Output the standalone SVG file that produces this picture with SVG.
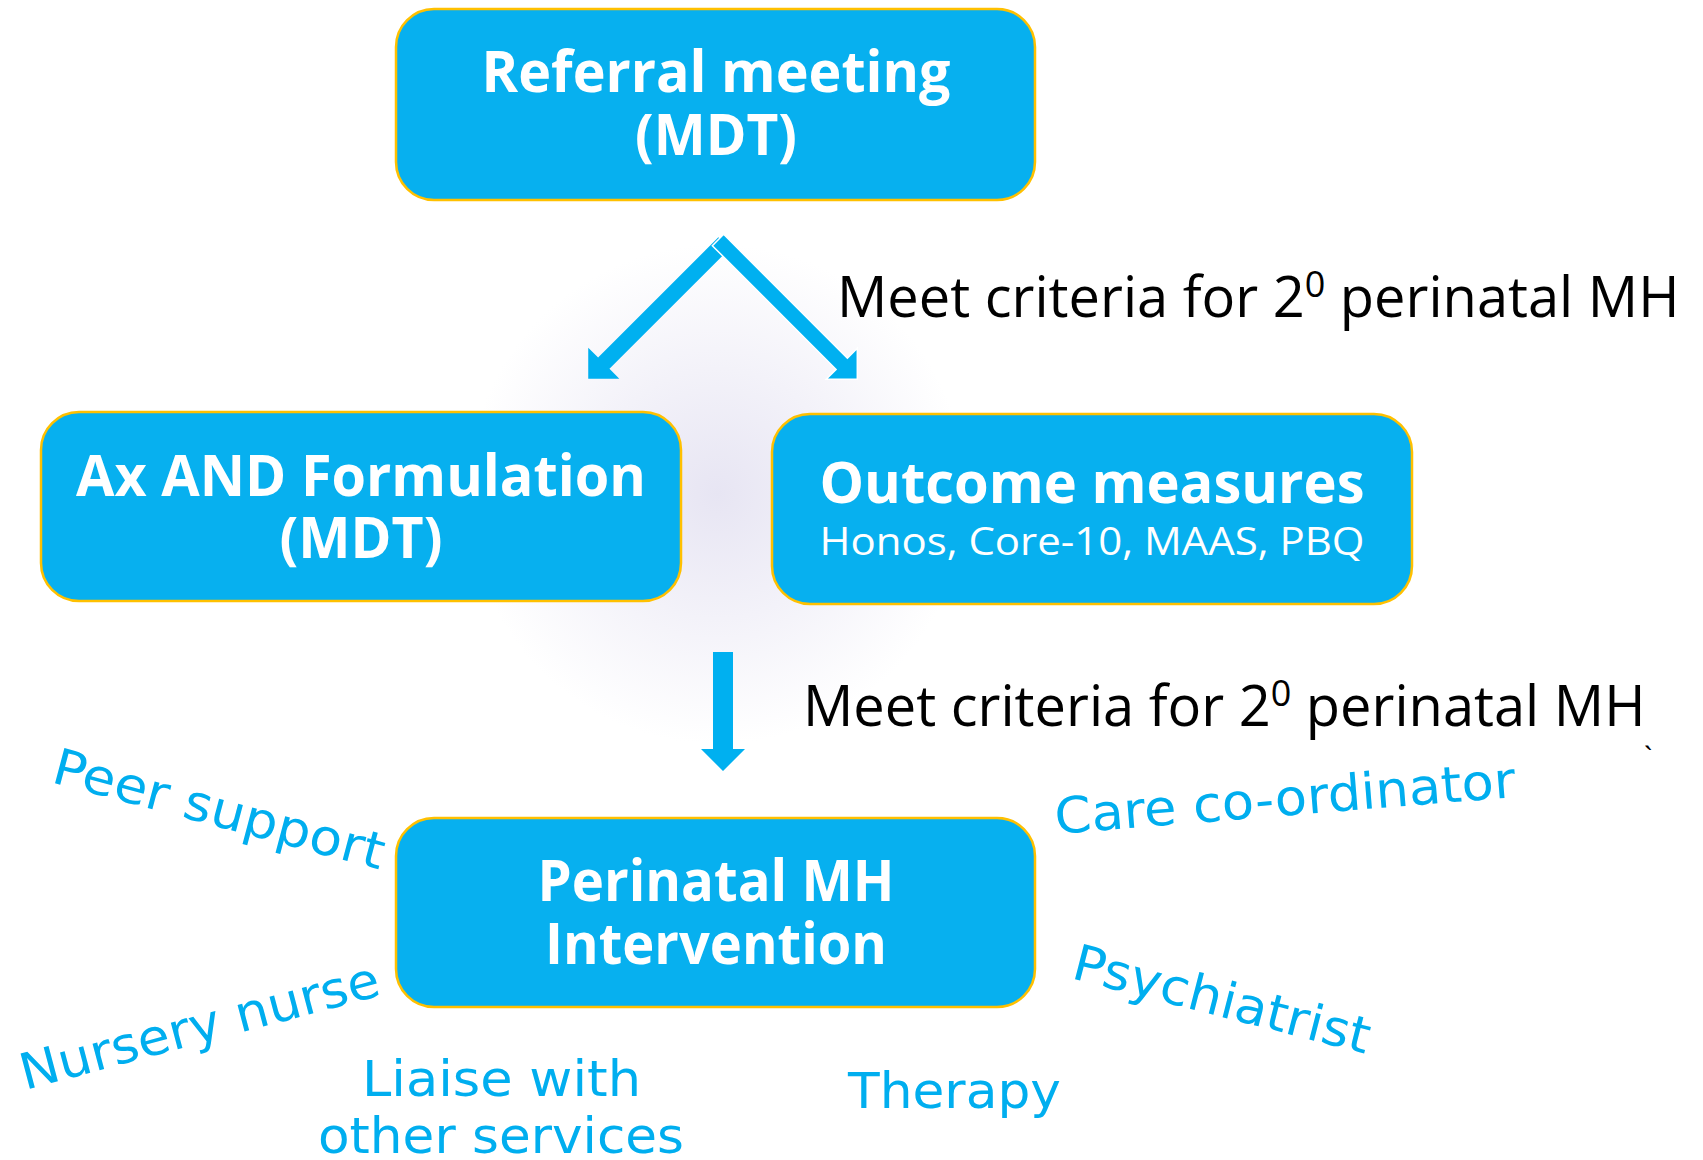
<svg xmlns="http://www.w3.org/2000/svg" width="1703" height="1160" viewBox="0 0 1703 1160">
<defs>
<radialGradient id="glow" cx="717" cy="494" r="250" gradientUnits="userSpaceOnUse">
<stop offset="0" stop-color="#E7E5F3"/>
<stop offset="0.5" stop-color="#F3F2F9"/>
<stop offset="1" stop-color="#FFFFFF"/>
</radialGradient>
<style>
.box{fill:#07B0EF;stroke:#FFC000;stroke-width:2.5}
.bt{font-family:"Open Sans","DejaVu Sans",sans-serif;font-weight:700;font-size:57px;fill:#FFFFFF;text-anchor:middle}
.st{font-family:"Open Sans","DejaVu Sans",sans-serif;font-weight:400;font-size:39px;fill:#FFFFFF;text-anchor:middle}
.crit{font-family:"Open Sans","DejaVu Sans",sans-serif;font-weight:400;font-size:56px;fill:#000000}
.tick{font-family:"Open Sans","DejaVu Sans",sans-serif;font-weight:400;font-size:30px;fill:#000000}
.lab{font-family:"DejaVu Sans","Open Sans",sans-serif;font-weight:400;font-size:50px;fill:#00AEEF}
.arr{fill:#00B0F0}
</style>
</defs>
<rect width="1703" height="1160" fill="#FFFFFF"/>
<rect x="440" y="240" width="560" height="520" fill="url(#glow)"/>

<g id="connectors">
<path class="arr" transform="translate(724,243) rotate(135)" d="M0,-8 L170,-8 L170,-22 L192,0 L170,22 L170,8 L0,8 Z"/>
<path class="arr" transform="translate(718,240) rotate(45)" d="M0,-8 L175,-8 L175,-22 L197,0 L175,22 L175,8 L0,8 Z" stroke="#FFFFFF" stroke-width="1.5"/>
<path class="arr" d="M713,652 L733,652 L733,749 L745,749 L723,771 L701,749 L713,749 Z"/>
</g>

<g id="label-criteria-1">
<text class="crit" x="837" y="317">Meet criteria for 2<tspan font-size="36" dy="-20">0</tspan><tspan dy="20"> perinatal MH</tspan></text>
</g>
<g id="label-criteria-2">
<text class="crit" x="803" y="726">Meet criteria for 2<tspan font-size="36" dy="-20">0</tspan><tspan dy="20"> perinatal MH</tspan></text>
<text class="tick" x="1644" y="768">`</text>
</g>

<g id="node-referral">
<rect class="box" x="396" y="9" width="639" height="191" rx="38"/>
<text class="bt" x="716" y="92" textLength="469" lengthAdjust="spacingAndGlyphs">Referral meeting</text>
<text class="bt" x="716" y="155" textLength="162" lengthAdjust="spacingAndGlyphs">(MDT)</text>
</g>

<g id="node-ax">
<rect class="box" x="41" y="412" width="640" height="189" rx="38"/>
<text class="bt" x="361" y="496" textLength="570" lengthAdjust="spacingAndGlyphs">Ax AND Formulation</text>
<text class="bt" x="361" y="558" textLength="163" lengthAdjust="spacingAndGlyphs">(MDT)</text>
</g>

<g id="node-outcome">
<rect class="box" x="772" y="414" width="640" height="190" rx="38"/>
<text class="bt" x="1092" y="503" textLength="545" lengthAdjust="spacingAndGlyphs">Outcome measures</text>
<text class="st" x="1092" y="555" textLength="545" lengthAdjust="spacingAndGlyphs">Honos, Core-10, MAAS, PBQ</text>
</g>

<g id="node-perinatal">
<rect class="box" x="396" y="818" width="639" height="189" rx="38"/>
<text class="bt" x="716" y="901" textLength="357" lengthAdjust="spacingAndGlyphs">Perinatal MH</text>
<text class="bt" x="716" y="964" textLength="342" lengthAdjust="spacingAndGlyphs">Intervention</text>
</g>

<g id="role-labels">
<text class="lab" transform="translate(50,782) rotate(14.9)" textLength="341" lengthAdjust="spacingAndGlyphs">Peer support</text>
<text class="lab" transform="translate(25,1090) rotate(-14.9)" textLength="370" lengthAdjust="spacingAndGlyphs">Nursery nurse</text>
<text class="lab" transform="translate(1056,834) rotate(-4.6)" textLength="462" lengthAdjust="spacingAndGlyphs">Care co-ordinator</text>
<text class="lab" transform="translate(1070,978) rotate(14.4)" textLength="305" lengthAdjust="spacingAndGlyphs">Psychiatrist</text>
<text class="lab" x="362" y="1096" textLength="279" lengthAdjust="spacingAndGlyphs">Liaise with</text>
<text class="lab" x="318" y="1153" textLength="366" lengthAdjust="spacingAndGlyphs">other services</text>
<text class="lab" x="848" y="1108" textLength="213" lengthAdjust="spacingAndGlyphs">Therapy</text>
</g>
</svg>
